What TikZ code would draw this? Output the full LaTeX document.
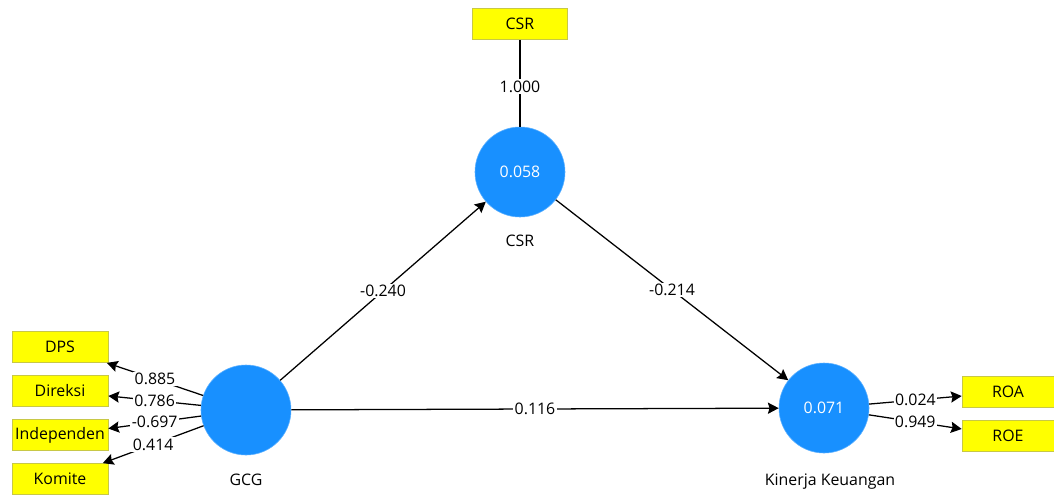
\documentclass[tikz,border=0pt]{standalone}
\usepackage{fontspec}
\setmainfont{Open Sans}
\usetikzlibrary{arrows.meta,positioning}
\definecolor{plsblue}{RGB}{24,144,255}
\definecolor{plsyellow}{RGB}{255,255,0}
\definecolor{plsedge}{RGB}{200,200,70}

\begin{document}
\begin{tikzpicture}[
  x=0.025cm, y=-0.025cm,
  font=\fontsize{11.3}{13}\selectfont,
  latent/.style={circle, fill=plsblue, draw=plsblue!70!white, text=white, minimum size=2.25cm, inner sep=0pt},
  ind/.style={draw=plsedge, fill=plsyellow, minimum width=2.4cm, minimum height=0.78cm, inner sep=0pt},
  arr/.style={-{Stealth[length=2.7mm, width=2.8mm, inset=0.4mm]}, line width=0.9pt},
  lnk/.style={line width=0.9pt},
  wt/.style={midway, fill=white, inner sep=1pt}
]
\useasboundingbox (0,0) rectangle (1054,495);
% latent variables
\node[latent] (csr) at (520,172) {0.058};
\node[latent] (gcg) at (246,410) {};
\node[latent] (kk) at (824,408) {0.071};
\node[below=0.32cm of csr] (csrlab) {CSR};
\node[below=0.35cm of gcg] (gcglab) {GCG};
\node[below=0.4cm of kk, xshift=0.15cm] (kklab) {Kinerja Keuangan};
% indicators
\node[ind, minimum width=2.38cm] (csri) at (520,24) {CSR};
\node[ind] (dps) at (60,347) {DPS};
\node[ind] (dir) at (60,391) {Direksi};
\node[ind] (ind) at (60,435) {Independen};
\node[ind] (kom) at (60,479) {Komite};
\node[ind, minimum width=2.3cm] (roa) at (1008,392) {ROA};
\node[ind, minimum width=2.3cm] (roe) at (1008,436) {ROE};
% outer model
\draw[lnk] (csri) -- (csr) node[wt, pos=0.54] {1.000};
\draw[arr] (gcg) -- (dps) node[wt] {0.885};
\draw[arr] (gcg) -- (dir) node[wt] {0.786};
\draw[arr] (gcg) -- (ind) node[wt] {-0.697};
\draw[arr] (gcg) -- (kom) node[wt] {0.414};
\draw[arr] (kk) -- (roa) node[wt] {0.024};
\draw[arr] (kk) -- (roe) node[wt] {0.949};
% inner model
\draw[arr] (gcg) -- (csr) node[wt] {-0.240};
\draw[arr] (csr) -- (kk) node[wt] {-0.214};
\draw[arr] (gcg) -- (kk) node[wt] {0.116};
\end{tikzpicture}
\end{document}
